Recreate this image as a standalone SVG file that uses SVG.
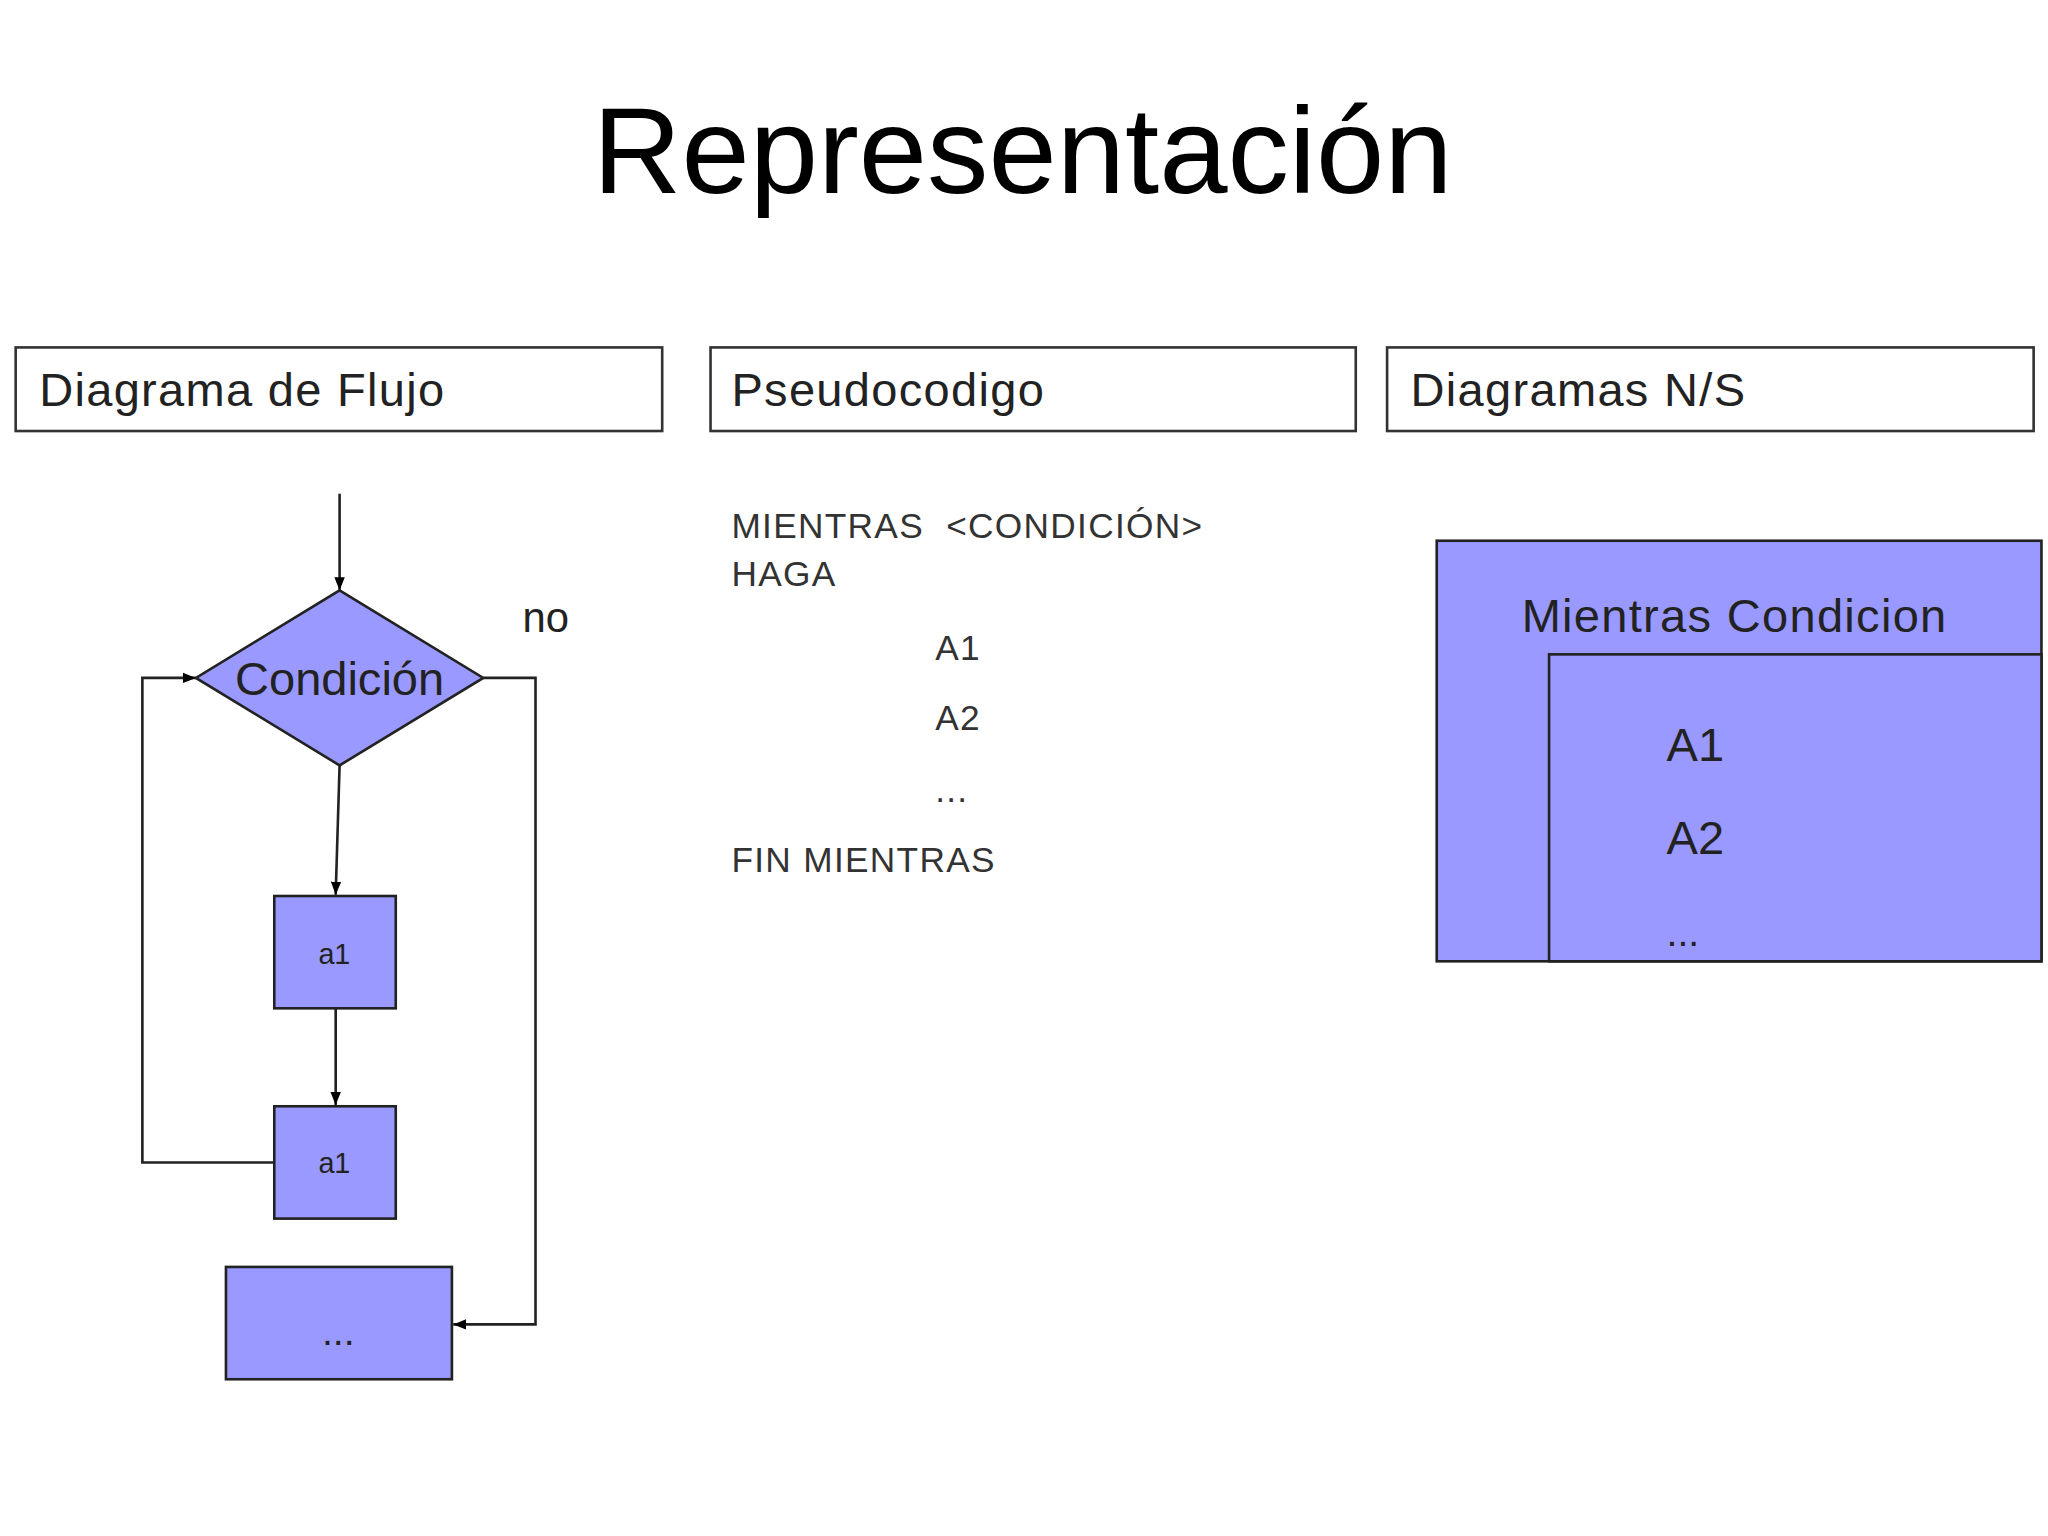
<svg xmlns="http://www.w3.org/2000/svg" width="2048" height="1536" viewBox="0 0 2048 1536">
<defs>
<marker id="ah" viewBox="0 0 10 10" refX="10" refY="5" markerWidth="10" markerHeight="10" markerUnits="userSpaceOnUse" orient="auto"><path d="M0,1 L10,5 L0,9 z" fill="#000"/></marker>
<style>
text{font-family:"Liberation Sans",Arial,sans-serif}
.hdr{fill:#fff;stroke:#333;stroke-width:2}
.ht{font-size:36px;fill:#222;letter-spacing:1px}
.node{fill:#9999ff;stroke:#222;stroke-width:2}
.ln{fill:none;stroke:#222;stroke-width:2}
.ps{font-size:27px;fill:#333;letter-spacing:1px}
</style>
</defs>
<rect width="2048" height="1536" fill="#fff"/>
<g transform="scale(1.30612)">
<text x="783" y="148" font-size="94" text-anchor="middle" fill="#000">Representación</text>
<g id="h1"><rect class="hdr" x="12" y="266" width="495" height="64"/><text class="ht" x="30" y="311">Diagrama de Flujo</text></g>
<g id="h2"><rect class="hdr" x="544" y="266" width="494" height="64"/><text class="ht" x="560" y="311">Pseudocodigo</text></g>
<g id="h3"><rect class="hdr" x="1062" y="266" width="495" height="64"/><text class="ht" x="1080" y="311">Diagramas N/S</text></g>
<g id="connectors">
<line class="ln" x1="260" y1="378" x2="260" y2="452" marker-end="url(#ah)"/>
<line class="ln" x1="260" y1="586" x2="257" y2="685" marker-end="url(#ah)"/>
<line class="ln" x1="257" y1="772" x2="257" y2="846" marker-end="url(#ah)"/>
<polyline class="ln" points="210,890 109,890 109,519 150,519" marker-end="url(#ah)"/>
<polyline class="ln" points="370,519 410,519 410,1014 347,1014" marker-end="url(#ah)"/>
<text x="400" y="484" font-size="32" fill="#222">no</text>
</g>
<g id="cond"><polygon class="node" points="260,452 370,519 260,586 150,519"/><text x="260" y="532" font-size="36" text-anchor="middle" fill="#222">Condición</text></g>
<g id="a1a"><rect class="node" x="210" y="686" width="93" height="86"/><text x="256" y="738" font-size="22" text-anchor="middle" fill="#222">a1</text></g>
<g id="a1b"><rect class="node" x="210" y="847" width="93" height="86"/><text x="256" y="898" font-size="22" text-anchor="middle" fill="#222">a1</text></g>
<g id="dots"><rect class="node" x="173" y="970" width="173" height="86"/><text x="259" y="1030" font-size="30" text-anchor="middle" fill="#222">...</text></g>
<g id="pseudo">
<text class="ps" x="560" y="412" xml:space="preserve">MIENTRAS  &lt;CONDICIÓN&gt;</text>
<text class="ps" x="560" y="449">HAGA</text>
<text class="ps" x="716" y="505">A1</text>
<text class="ps" x="716" y="559">A2</text>
<text class="ps" x="716" y="614">...</text>
<text class="ps" x="560" y="668">FIN MIENTRAS</text>
</g>
<g id="ns">
<rect class="node" x="1100" y="414" width="463" height="322"/>
<text x="1165" y="484" font-size="36" fill="#222" letter-spacing="1">Mientras Condicion</text>
<rect class="node" x="1186" y="501" width="377" height="235"/>
<text x="1276" y="583" font-size="36" fill="#222">A1</text>
<text x="1276" y="654" font-size="36" fill="#222">A2</text>
<text x="1276" y="724" font-size="30" fill="#222">...</text>
</g>
</g>
</svg>
